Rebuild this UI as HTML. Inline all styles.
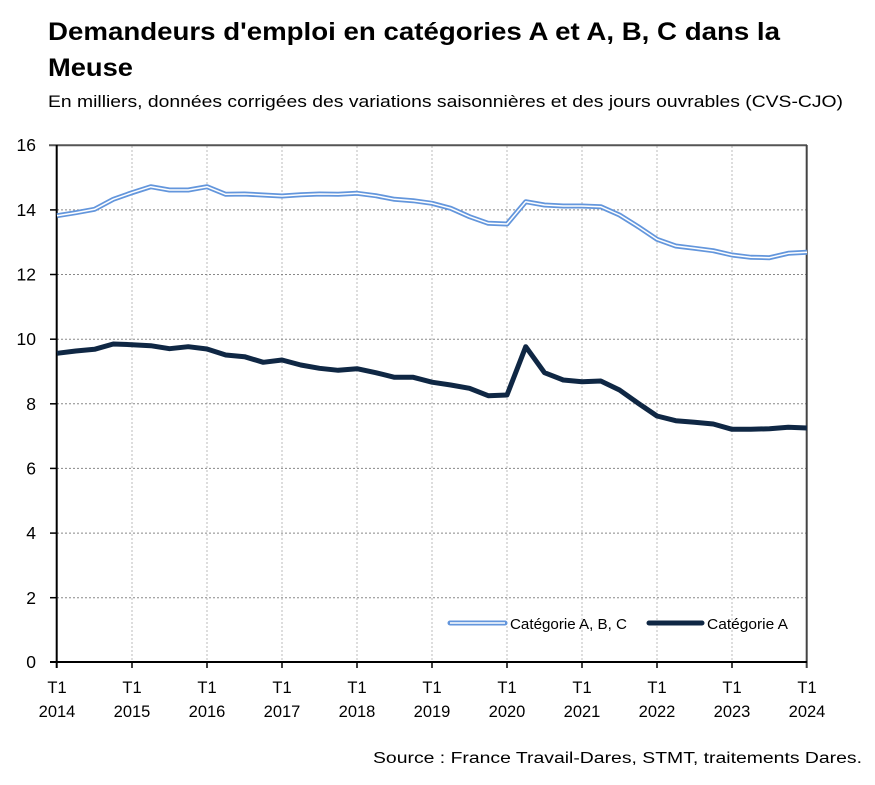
<!DOCTYPE html>
<html><head><meta charset="utf-8"><style>
html,body{margin:0;padding:0;background:#fff;}
svg{display:block;}
text{font-family:"Liberation Sans",Arial,sans-serif;fill:#000;}
</style></head><body>
<svg width="875" height="785" viewBox="0 0 875 785" xmlns="http://www.w3.org/2000/svg">
<text x="48" y="40" font-size="25" font-weight="bold" textLength="732" lengthAdjust="spacingAndGlyphs">Demandeurs d'emploi en catégories A et A, B, C dans la</text>
<text x="48" y="76" font-size="25" font-weight="bold" textLength="85" lengthAdjust="spacingAndGlyphs">Meuse</text>
<text x="48" y="107" font-size="16.5" fill="#222" textLength="795" lengthAdjust="spacingAndGlyphs">En milliers, données corrigées des variations saisonnières et des jours ouvrables (CVS-CJO)</text>

<!-- vertical grid -->
<g stroke="#bbb" stroke-width="1" stroke-dasharray="2,2">
<line x1="132" y1="146" x2="132" y2="661"/>
<line x1="207" y1="146" x2="207" y2="661"/>
<line x1="282" y1="146" x2="282" y2="661"/>
<line x1="357" y1="146" x2="357" y2="661"/>
<line x1="432" y1="146" x2="432" y2="661"/>
<line x1="507" y1="146" x2="507" y2="661"/>
<line x1="582" y1="146" x2="582" y2="661"/>
<line x1="657" y1="146" x2="657" y2="661"/>
<line x1="732" y1="146" x2="732" y2="661"/>
</g>
<!-- horizontal grid -->
<g stroke="#888" stroke-width="1" stroke-dasharray="2,2">
<line x1="57" y1="209.9" x2="807" y2="209.9"/>
<line x1="57" y1="274.5" x2="807" y2="274.5"/>
<line x1="57" y1="339.2" x2="807" y2="339.2"/>
<line x1="57" y1="403.8" x2="807" y2="403.8"/>
<line x1="57" y1="468.4" x2="807" y2="468.4"/>
<line x1="57" y1="533.1" x2="807" y2="533.1"/>
<line x1="57" y1="597.7" x2="807" y2="597.7"/>
</g>

<!-- frame -->
<line x1="49" y1="145.3" x2="807" y2="145.3" stroke="#555" stroke-width="2"/>
<line x1="806.7" y1="145" x2="806.7" y2="668" stroke="#444" stroke-width="2"/>
<line x1="56.7" y1="145" x2="56.7" y2="668" stroke="#000" stroke-width="2"/>
<line x1="50" y1="662" x2="807" y2="662" stroke="#000" stroke-width="2"/>
<!-- y ticks -->
<g stroke="#000" stroke-width="1.5">
<line x1="50" y1="209.9" x2="57" y2="209.9"/>
<line x1="50" y1="274.5" x2="57" y2="274.5"/>
<line x1="50" y1="339.2" x2="57" y2="339.2"/>
<line x1="50" y1="403.8" x2="57" y2="403.8"/>
<line x1="50" y1="468.4" x2="57" y2="468.4"/>
<line x1="50" y1="533.1" x2="57" y2="533.1"/>
<line x1="50" y1="597.7" x2="57" y2="597.7"/>
</g>
<!-- x ticks -->
<g stroke="#000" stroke-width="1.5">
<line x1="132" y1="662" x2="132" y2="668"/>
<line x1="207" y1="662" x2="207" y2="668"/>
<line x1="282" y1="662" x2="282" y2="668"/>
<line x1="357" y1="662" x2="357" y2="668"/>
<line x1="432" y1="662" x2="432" y2="668"/>
<line x1="507" y1="662" x2="507" y2="668"/>
<line x1="582" y1="662" x2="582" y2="668"/>
<line x1="657" y1="662" x2="657" y2="668"/>
<line x1="732" y1="662" x2="732" y2="668"/>
</g>

<!-- y labels -->
<g font-size="17.5" text-anchor="end">
<text x="36" y="151">16</text>
<text x="36" y="216">14</text>
<text x="36" y="280.5">12</text>
<text x="36" y="345">10</text>
<text x="36" y="410">8</text>
<text x="36" y="474.5">6</text>
<text x="36" y="539">4</text>
<text x="36" y="604">2</text>
<text x="36" y="668">0</text>
</g>
<!-- x labels -->
<g font-size="16.5" text-anchor="middle">
<text x="57" y="693">T1</text><text x="57" y="717">2014</text>
<text x="132" y="693">T1</text><text x="132" y="717">2015</text>
<text x="207" y="693">T1</text><text x="207" y="717">2016</text>
<text x="282" y="693">T1</text><text x="282" y="717">2017</text>
<text x="357" y="693">T1</text><text x="357" y="717">2018</text>
<text x="432" y="693">T1</text><text x="432" y="717">2019</text>
<text x="507" y="693">T1</text><text x="507" y="717">2020</text>
<text x="582" y="693">T1</text><text x="582" y="717">2021</text>
<text x="657" y="693">T1</text><text x="657" y="717">2022</text>
<text x="732" y="693">T1</text><text x="732" y="717">2023</text>
<text x="807" y="693">T1</text><text x="807" y="717">2024</text>
</g>

<!-- Catégorie A, B, C -->
<polyline fill="none" stroke="#6396dc" stroke-width="5" stroke-linejoin="round" points="57,215.7 75.75,212.7 94.5,209.3 113.25,199.3 132,192.7 150.75,186.7 169.5,190 188.25,190 207,186.7 225.75,194.3 244.5,194 263.25,195 282,196 300.75,194.7 319.5,194 338.25,194.3 357,193.3 375.75,195.7 394.5,199.3 413.25,200.7 432,203.3 450.75,208.3 469.5,216.7 488.25,223.3 507,224 525.75,201.7 544.5,205 563.25,206 582,206 600.75,206.7 619.5,215 638.25,226.7 657,239.3 675.75,246 694.5,248.3 713.25,250.7 732,255 750.75,257.3 769.5,257.7 788.25,253.3 807,252.3"/>
<polyline fill="none" stroke="#fff" stroke-width="1.5" stroke-linejoin="round" points="57,215.7 75.75,212.7 94.5,209.3 113.25,199.3 132,192.7 150.75,186.7 169.5,190 188.25,190 207,186.7 225.75,194.3 244.5,194 263.25,195 282,196 300.75,194.7 319.5,194 338.25,194.3 357,193.3 375.75,195.7 394.5,199.3 413.25,200.7 432,203.3 450.75,208.3 469.5,216.7 488.25,223.3 507,224 525.75,201.7 544.5,205 563.25,206 582,206 600.75,206.7 619.5,215 638.25,226.7 657,239.3 675.75,246 694.5,248.3 713.25,250.7 732,255 750.75,257.3 769.5,257.7 788.25,253.3 807,252.3"/>

<!-- Catégorie A -->
<polyline fill="none" stroke="#0f2744" stroke-width="5" stroke-linejoin="round" points="57,353.3 75.75,351 94.5,349.3 113.25,344 132,344.7 150.75,345.7 169.5,348.7 188.25,346.7 207,349 225.75,355 244.5,356.7 263.25,362.3 282,360 300.75,365 319.5,368.3 338.25,370.3 357,368.7 375.75,372.7 394.5,377.3 413.25,377.3 432,382.2 450.75,385 469.5,388.3 488.25,395.7 507,395 525.75,346.7 544.5,372.7 563.25,380 582,381.7 600.75,381 619.5,390 638.25,403.3 657,416 675.75,420.7 694.5,422.3 713.25,424 732,429.3 750.75,429.3 769.5,428.7 788.25,427.3 807,428"/>

<!-- legend -->
<line x1="450" y1="623" x2="505" y2="623" stroke="#6396dc" stroke-width="5" stroke-linecap="round"/>
<line x1="450" y1="623" x2="505" y2="623" stroke="#fff" stroke-width="1.5"/>
<text x="510" y="629" font-size="15" fill="#222" textLength="117" lengthAdjust="spacingAndGlyphs">Catégorie A, B, C</text>
<line x1="649" y1="623" x2="702" y2="623" stroke="#0f2744" stroke-width="5" stroke-linecap="round"/>
<text x="707" y="629" font-size="15" fill="#222" textLength="81" lengthAdjust="spacingAndGlyphs">Catégorie A</text>

<text x="373" y="763" font-size="15.5" fill="#111" textLength="489" lengthAdjust="spacingAndGlyphs">Source : France Travail-Dares, STMT, traitements Dares.</text>
</svg>
</body></html>
